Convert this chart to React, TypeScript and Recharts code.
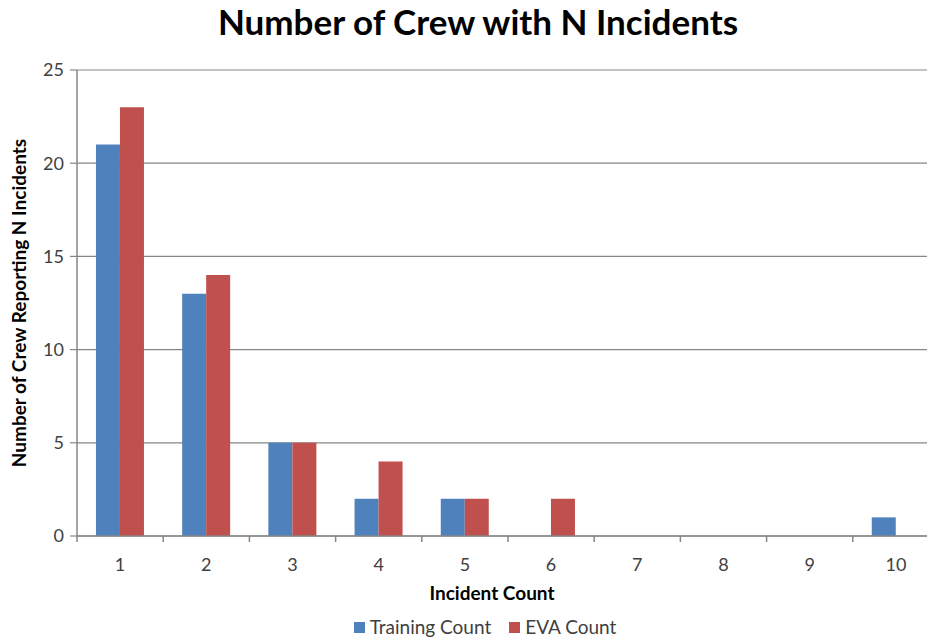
import { BarChart, Bar, XAxis, YAxis, CartesianGrid, Legend } from 'recharts'

const categories = [1, 2, 3, 4, 5, 6, 7, 8, 9, 10]
const trainingCount = [21, 13, 5, 2, 2, 0, 0, 0, 0, 1]
const evaCount = [23, 14, 5, 4, 2, 2, 0, 0, 0, 0]
const yTicks = [0, 5, 10, 15, 20, 25]
const seriesNames = ['Training Count', 'EVA Count']
const seriesColors = ['#4F81BD', '#C0504D']

const data = categories.map((c, i) => ({ cat: c, training: trainingCount[i], eva: evaCount[i] }))

const FONT = "Lato, 'Open Sans', sans-serif"
const AXIS = '#868686'
const TICK = { fontSize: 18, fill: '#404040', fontFamily: FONT }

// category label plus Excel-style tick mark on the left band boundary
function CatTick(props: any) {
  const { x, y, payload } = props
  const off = payload.offset ?? 0
  const axisY = y - 18
  return (
    <g>
      <line x1={x - off} x2={x - off} y1={axisY} y2={axisY + 6} stroke={AXIS} strokeWidth={1.5} />
      <text x={x} y={y} dy={17} textAnchor="middle" fontSize={18} fill="#404040" fontFamily={FONT}>
        {payload.value}
      </text>
    </g>
  )
}

function LegendBox() {
  return (
    <div style={{ display: 'flex', justifyContent: 'center', gap: 18, fontSize: 19, lineHeight: '22px', color: '#404040', fontFamily: FONT }}>
      {seriesNames.map((n, i) => (
        <span key={n} style={{ display: 'flex', alignItems: 'center' }}>
          <span style={{ width: 11, height: 11, background: seriesColors[i], marginRight: 5, display: 'inline-block' }} />
          {n}
        </span>
      ))}
    </div>
  )
}

export default function App() {
  return (
    <div style={{ position: 'relative', width: 935, height: 652, margin: -8, overflow: 'hidden', background: '#fff', fontFamily: FONT }}>
      <div style={{ position: 'absolute', left: 0, top: 0, width: 956, textAlign: 'center', fontSize: 35, fontWeight: 700, color: '#000' }}>
        Number of Crew with N Incidents
      </div>
      <BarChart
        width={945}
        height={640}
        data={data}
        margin={{ top: 70, right: 6, left: 0, bottom: 0 }}
        barCategoryGap="22%"
        barGap={0}
      >
        <CartesianGrid vertical={false} stroke={AXIS} strokeWidth={1.2} />
        <XAxis
          dataKey="cat"
          tick={<CatTick />}
          tickLine={false}
          tickSize={0}
          axisLine={{ stroke: AXIS, strokeWidth: 1.5 }}
          tickMargin={18}
          height={74}
          interval={0}
          label={{ value: 'Incident Count', position: 'insideBottom', offset: 10, dx: -16, style: { fontSize: 19, fontWeight: 700, fill: '#000', fontFamily: FONT } }}
        />
        <YAxis
          domain={[0, 25]}
          ticks={yTicks}
          tick={TICK}
          tickSize={7}
          tickMargin={6}
          tickLine={{ stroke: AXIS, strokeWidth: 1.2 }}
          axisLine={{ stroke: AXIS, strokeWidth: 1.5 }}
          width={77}
          label={{ value: 'Number of Crew Reporting N Incidents', angle: -90, position: 'insideLeft', offset: 19, style: { textAnchor: 'middle', fontSize: 19, fontWeight: 700, fill: '#000', fontFamily: FONT } }}
        />
        <Legend verticalAlign="bottom" height={30} content={() => <LegendBox />} wrapperStyle={{ left: 0, width: 970, bottom: -6 }} />
        <Bar dataKey="training" name={seriesNames[0]} fill={seriesColors[0]} isAnimationActive={false} />
        <Bar dataKey="eva" name={seriesNames[1]} fill={seriesColors[1]} isAnimationActive={false} />
      </BarChart>
    </div>
  )
}
